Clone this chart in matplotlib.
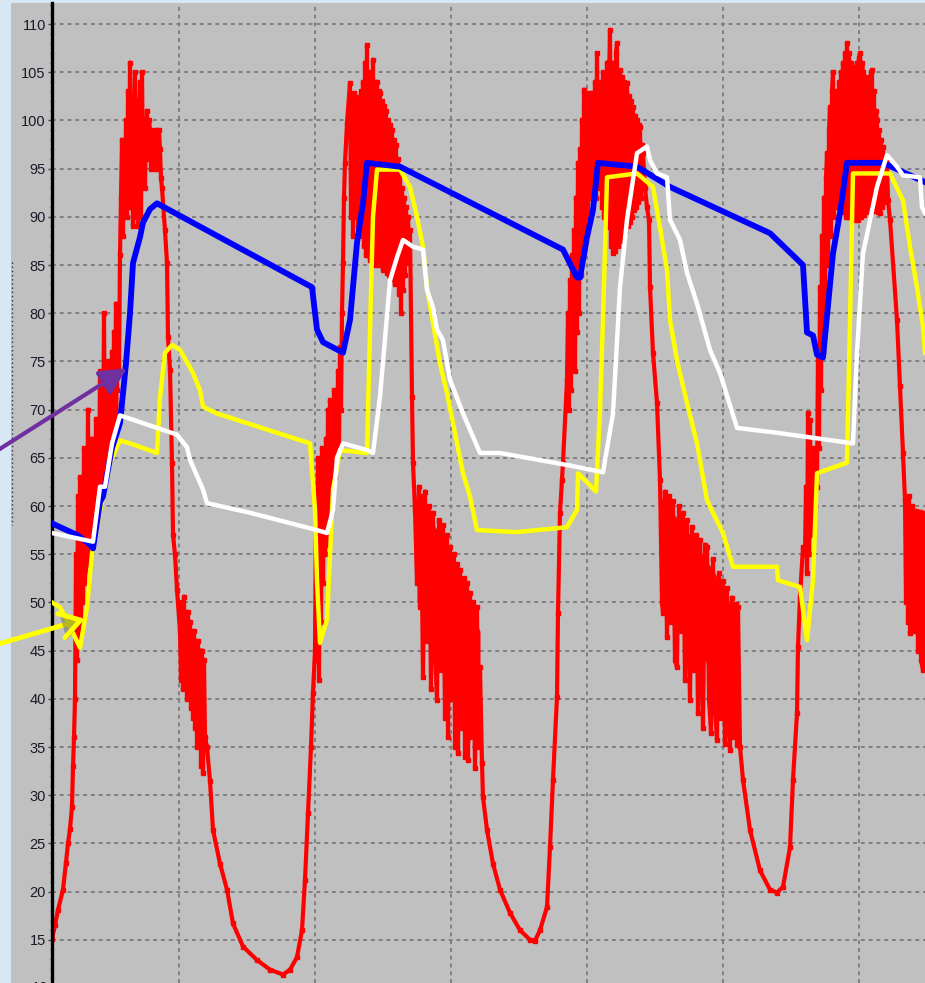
import matplotlib.pyplot as plt
import matplotlib.patheffects as pe
from matplotlib.patches import Rectangle
from matplotlib.lines import Line2D

# x is the sample index of the logger, y the temperature reading
blue_x = [52, 77, 90, 93, 100, 103, 112, 120, 126, 130, 133, 140, 143, 150, 157, 230, 312, 317, 323, 343,
          350, 357, 363, 367, 400, 563, 577, 580, 587, 593, 598, 637, 670, 770, 803, 807, 813, 817, 823, 833,
          840, 847, 883, 925]
blue_y = [58.2, 57.0, 56.0, 55.6, 60.4, 61.0, 66.0, 68.6, 74.8, 80.0, 85.2, 87.9, 89.4, 90.8, 91.4, 87.3, 82.7, 78.3, 77.0, 75.9,
          79.3, 87.3, 91.4, 95.6, 95.2, 86.6, 83.7, 83.7, 87.9, 90.7, 95.6, 95.2, 93.1, 88.3, 85.0, 78.0, 77.7, 75.7, 75.4, 86.2,
          90.4, 95.6, 95.6, 93.6]

white_x = [52, 93, 100, 105, 112, 120, 177, 187, 190, 203, 207, 250, 317, 327, 333, 337, 343, 367, 373, 380,
           390, 397, 403, 413, 423, 427, 433, 437, 443, 450, 463, 480, 500, 570, 603, 613, 620, 627, 637, 647,
           650, 657, 667, 670, 680, 687, 697, 710, 720, 737, 777, 853, 857, 863, 877, 887, 897, 903, 920, 922, 925]
white_y = [57.2, 56.3, 62, 62, 66.5, 69.4, 67.4, 66.1, 64.8, 61.7, 60.3, 59.3, 57.5, 57.2, 59.6, 65, 66.5, 65.8, 65.5, 71.3,
           83.4, 85.8, 87.6, 86.9, 86.6, 82.4, 80.6, 78.3, 77.2, 73.1, 69.6, 65.5, 65.5, 64.2, 63.5, 69.6, 82.7, 89.7, 96.6, 97.3,
           95.9, 94.5, 94.1, 89.7, 87.6, 84.2, 81, 76.2, 73.8, 68.1, 67.6, 66.5, 75.9, 86.2, 93.1, 96.4, 95.2, 94.3, 94.1, 91, 90.4]

yellow_x = [52, 60, 70, 80, 87, 92, 103, 110, 120, 130, 157, 160, 165, 172, 180, 193, 200, 203, 217, 310,
            315, 317, 320, 327, 333, 340, 367, 370, 373, 377, 400, 410, 417, 423, 427, 433, 440, 447, 453, 463,
            470, 477, 517, 567, 577, 578, 596, 600, 603, 607, 637, 653, 660, 667, 670, 677, 687, 697, 707, 713,
            723, 733, 777, 778, 800, 807, 813, 817, 847, 850, 853, 890, 903, 910, 917, 923, 925]
yellow_y = [50, 49.5, 47.5, 45.3, 49.5, 55.1, 61, 64.5, 66.8, 66.5, 65.5, 71.3, 75.9, 76.7, 76.2, 73.8, 72, 70.3, 69.6, 66.5,
            59.6, 52.3, 45.8, 48.2, 61.7, 65.8, 65.5, 78.3, 90, 94.9, 94.9, 93.1, 90, 86.9, 82.7, 79, 74.8, 71.7, 68.6, 63.4,
            61, 57.5, 57.3, 57.8, 59.6, 63.4, 61.5, 70, 79.3, 94.1, 94.5, 93.1, 88.9, 84.5, 79.3, 75.1, 70.7, 66.5, 60.6, 59.3,
            57.2, 53.7, 53.7, 52.3, 51.6, 46.1, 52.3, 63.4, 64.5, 79.3, 94.5, 94.5, 91.7, 86.9, 82.7, 78.6, 75.9]

# red probe: (sample, reading) pieces, noisy stretches kept as they were read
red_rise1 = [(52, 15.1), (55, 16.5), (58, 18.1), (63, 20.2), (66, 23), (68, 25), (70, 26.5), (72, 28.8), (73, 33),
             (74, 36), (75, 40)]
red_band1 = [(76, 55), (77, 44), (78, 61), (79, 46), (80, 63), (81, 48), (82, 58), (83, 50), (84, 66), (85, 52),
             (86, 62), (87, 54), (88, 70), (89, 55), (90, 64), (91, 56), (92, 67), (93, 57), (94, 62), (95, 58),
             (96, 69), (97, 60), (98, 66), (99, 61), (100, 74), (101, 62), (102, 70), (103, 63), (104, 80), (105, 64),
             (106, 72), (107, 66), (108, 75), (109, 67), (110, 74), (111, 68), (112, 76), (113, 69), (114, 78),
             (115, 70), (116, 81), (117, 72), (118, 80), (119, 74), (120, 86)]
red_peak1 = [(121, 92), (122, 98), (123, 88), (124, 96), (125, 91), (126, 100), (127, 90), (128, 103), (129, 91),
             (130, 106), (131, 92), (132, 99), (133, 89), (134, 101), (135, 105), (136, 90), (137, 102), (138, 89),
             (139, 100), (140, 104), (141, 90), (142, 105), (143, 94), (144, 100), (145, 93), (146, 99), (147, 101),
             (148, 96), (149, 100), (150, 99), (151, 95), (152, 98), (153, 96), (154, 99), (155, 95), (156, 98),
             (157, 99), (158, 95), (159, 99), (160, 97), (161, 94), (162, 93)]
red_fall1 = [(165, 88.6), (167, 85.2), (168, 77.5), (170, 74.1), (172, 64.5), (173, 57), (175, 55), (177, 51.3)]
red_band2 = [(180, 47), (181, 42), (182, 50), (183, 41), (184, 50.6), (185, 43), (186, 49), (187, 40), (188, 49),
             (189, 41), (190, 48), (191, 39), (192, 47), (193, 38), (194, 47), (195, 37), (196, 46), (197, 35),
             (198, 46), (199, 36), (200, 45), (201, 33), (202, 45), (203, 32.3), (204, 44), (205, 36), (207, 35)]
red_trough1 = [(210, 31.5), (213, 26.4), (220, 22.9), (227, 20.2), (233, 16.7), (243, 14.3), (257, 12.9), (270, 11.9),
               (283, 11.4), (290, 11.9), (297, 13.2), (302, 16), (305, 21.2), (308, 28.2), (311, 35), (313, 40.6)]
red_band3 = [(315, 45), (316, 60), (317, 44), (318, 65), (319, 42), (320, 62), (321, 48), (322, 66), (323, 52),
             (324, 63), (325, 55), (326, 67), (327, 56), (328, 70), (329, 58), (330, 71), (331, 60), (332, 68),
             (333, 62), (334, 72), (335, 63), (336, 70), (337, 65), (338, 74), (339, 66), (340, 76.5), (341, 70),
             (342, 80), (343, 85.2), (344, 92), (345, 95.6), (347, 99.7)]
red_peak2 = [(350, 103.9), (351, 90), (352, 101), (353, 88), (354, 102.8), (355, 90), (356, 100), (357, 102.4),
             (358, 89), (359, 101), (360, 92), (361, 103), (362, 88), (363, 104), (364, 87), (365, 106), (366, 86),
             (367, 107.8), (368, 86), (369, 104), (370, 85.5), (371, 105), (372, 86), (373, 106.3), (374, 85),
             (375, 104), (376, 85.2), (377, 104), (378, 85), (379, 103), (380, 102.8), (381, 85), (382, 102),
             (383, 84.5), (384, 101.5), (385, 84.5), (386, 101), (387, 84.2), (388, 100), (389, 84), (390, 99.5),
             (391, 84), (392, 99), (393, 83.5), (394, 98), (395, 83), (396, 97.5), (397, 83.1), (398, 96), (399, 82),
             (400, 94.9), (401, 80), (402, 93), (403, 82.4), (404, 92), (405, 84), (406, 91), (407, 85.2), (408, 90),
             (409, 87), (410, 88.6)]
red_fall2 = [(412, 71.3), (413, 64.5), (415, 59.6)]
red_band4 = [(417, 52), (419, 62), (420, 49.5), (421, 61), (423, 42.3), (425, 61.5), (427, 46), (429, 60), (431, 41),
             (433, 59.3), (435, 45), (437, 39.9), (439, 58.5), (441, 43), (443, 58), (445, 38), (447, 57), (448, 36),
             (450, 55.7), (452, 40), (454, 55), (455, 35), (457, 54), (458, 34.4), (460, 53.4), (462, 37),
             (464, 52.5), (465, 34), (467, 52), (468, 33.7), (470, 51), (472, 36), (473, 50), (475, 32.8),
             (477, 49.5), (478, 35), (480, 43.3), (482, 33.3)]
red_trough2 = [(483, 29.8), (487, 26.4), (493, 22.9), (500, 20.2), (510, 17.8), (520, 16), (530, 15), (535, 14.9),
               (540, 16), (547, 18.4), (550, 24.6), (553, 31.6), (557, 40.2), (558, 48.9), (560, 59.3), (562, 62.7),
               (563, 64.5), (567, 73.1)]
red_band5 = [(568, 80), (569, 70), (570, 83.4), (571, 72), (572, 86), (573, 75), (574, 88.6), (575, 74), (576, 92),
             (577, 78), (578, 95.6), (579, 80), (580, 97), (581, 84), (582, 100), (583, 86), (584, 103.2), (585, 88),
             (586, 101), (587, 102.8), (588, 90), (589, 100), (590, 92), (591, 102.8), (592, 93), (593, 102.8),
             (594, 94), (595, 104), (596, 92), (597, 107), (598, 93.1)]
red_peak3 = [(599, 100), (600, 93), (601, 104), (602, 91), (603, 105), (604, 90), (605, 103), (606, 89), (607, 106),
             (608, 88.9), (609, 104), (610, 109.4), (611, 87), (612, 106), (613, 86.2), (614, 105), (615, 86.5),
             (616, 107), (617, 108), (618, 87), (619, 104), (620, 105.2), (621, 87.5), (622, 104.5), (623, 87.9),
             (624, 104), (625, 88.5), (626, 103), (627, 103.9), (628, 89), (629, 102.5), (630, 89.5), (631, 102),
             (632, 90), (633, 101.4), (634, 90.7), (635, 100.5), (636, 91), (637, 100), (638, 91.5), (639, 99.5),
             (640, 99.3), (641, 92), (642, 97.5), (643, 96.6), (645, 93), (647, 91)]
red_fall3 = [(649, 89.7), (650, 82.7), (653, 75.9), (657, 70.7)]
red_band6 = [(660, 62.7), (662, 50), (663, 48.9), (665, 61.5), (667, 46.4), (669, 61), (671, 48), (673, 60.5),
             (675, 44), (677, 43.3), (679, 60), (681, 47), (683, 59.3), (685, 42), (687, 58.5), (689, 45), (690, 39.9),
             (692, 57.8), (694, 43), (696, 57), (698, 38.5), (700, 56.5), (702, 42), (703, 37), (705, 56), (707, 55.7),
             (709, 40), (711, 36.5), (713, 54.5), (715, 39), (717, 35.7), (719, 53), (721, 38), (723, 52.2),
             (725, 35.3), (727, 51.5), (729, 37), (730, 34.7), (732, 50.5), (734, 36), (736, 49.8), (737, 35.2),
             (738, 49.5), (740, 35)]
red_trough3 = [(743, 31.6), (750, 26.4), (760, 22.2), (770, 20.2), (777, 19.9), (783, 20.5), (790, 24.6), (793, 31.6),
               (797, 38.5), (798, 45.4), (800, 50.6), (803, 55.7)]
red_band7 = [(805, 55), (806, 62), (807, 53), (808, 69.6), (809, 55), (810, 68.9), (811, 57), (812, 66), (813, 58),
             (814, 64), (815, 60), (816, 66), (817, 62), (818, 75.9), (819, 66), (820, 82.7), (821, 72), (822, 88),
             (823, 76), (824, 92), (825, 80), (826, 94), (827, 96.6), (828, 85), (829, 99), (830, 101.4), (831, 88),
             (832, 103), (833, 105), (834, 90), (835, 103), (836, 92), (837, 101.8)]
red_peak4 = [(838, 91), (839, 104), (840, 92), (841, 105), (842, 91), (843, 106), (844, 90.5), (845, 107), (846, 90),
             (847, 108), (848, 90), (849, 107), (850, 90), (851, 106), (852, 90), (853, 105.2), (854, 89.8),
             (855, 105.5), (856, 89.7), (857, 106), (858, 89.7), (859, 106.5), (860, 107), (861, 90), (862, 106),
             (863, 105), (864, 90.2), (865, 104.5), (866, 90.5), (867, 104.2), (868, 90.8), (869, 104.5), (870, 91),
             (871, 105), (872, 105.2), (873, 90.8), (874, 103), (875, 90.6), (876, 101), (877, 100), (878, 90.5),
             (879, 99), (880, 90.4), (881, 98), (882, 91), (883, 97.2), (885, 91.5), (887, 95.9), (888, 91.7)]
red_fall4 = [(890, 89.7), (897, 79.3), (900, 72.4), (903, 65.5), (905, 60.6)]
red_band8 = [(906, 50), (907, 60), (908, 48), (909, 61), (910, 46.8), (912, 60), (914, 47), (916, 59.5), (918, 45),
             (920, 59.4), (921, 44), (923, 43), (924, 59.3), (925, 50)]

# dense core of each noisy stretch: (sample, low, high)
red_cores = [
    [(78, 47, 58), (85, 52, 62), (92, 56, 64), (100, 60, 68), (110, 64, 72), (118, 68, 76)],
    [(182, 43, 48), (192, 40, 46), (204, 38, 43)],
    [(316, 48, 58), (328, 58, 67), (340, 68, 74)],
    [(417, 50, 61), (440, 46, 57), (460, 42, 52), (480, 38, 47)],
    [(660, 52, 61), (690, 47, 57), (715, 42, 53), (738, 38, 48)],
    [(906, 50, 58), (925, 47, 58)],
]

red_pieces = [red_rise1, red_band1, red_peak1, red_fall1, red_band2, red_trough1, red_band3, red_peak2, red_fall2,
              red_band4, red_trough2, red_band5, red_peak3, red_fall3, red_band6, red_trough3, red_band7, red_peak4,
              red_fall4, red_band8]
red = [p for piece in red_pieces for p in piece]
red_x = [p[0] for p in red]
red_y = [p[1] for p in red]

y_ticks = list(range(15, 111, 5))
x_grid = [179, 315, 451, 587, 723, 859]

W, H = 925, 983
fig = plt.figure(figsize=(W / 100, H / 100), dpi=100)
fig.patch.set_facecolor('#d7e7f4')

# gray panel behind the tick labels (drawn under the axes)
fig.patches.append(Rectangle((11 / W, 0), (W - 11) / W, 980 / H, transform=fig.transFigure,
                             facecolor='#c0c0c0', edgecolor='none', zorder=-5))
fig.lines.append(Line2D([11.5 / W, 11.5 / W], [(H - 262) / H, (H - 525) / H], transform=fig.transFigure,
                        color='#303050', lw=1, ls=(0, (1, 2)), zorder=-4))

ax = fig.add_axes([52 / W, 0, (W - 52) / W, 980 / H])
ax.set_zorder(1)
ax.set_facecolor('#c0c0c0')
ax.set_xlim(52, 925)
ax.set_ylim(10.52, 112.18)

for s in ['top', 'right', 'bottom']:
    ax.spines[s].set_visible(False)
ax.spines['left'].set_color('black')
ax.spines['left'].set_linewidth(2.4)

ax.set_yticks(y_ticks)
ax.set_yticks(range(11, 113), minor=True)
ax.set_xticks(x_grid)
ax.tick_params(axis='x', length=0, labelbottom=False)
ax.tick_params(axis='y', which='major', length=3, width=1, color='#404040', pad=1.5,
               labelsize=10.5, labelcolor='#1a1a2a')
ax.tick_params(axis='y', which='minor', length=1.5, width=1, color='#505050')
for lab in ax.get_yticklabels():
    lab.set_family('Liberation Sans')
ax.text(-0.0045, 10, '10', transform=ax.get_yaxis_transform(), ha='right', va='center',
        fontsize=10.5, family='Liberation Sans', color='#1a1a2a', clip_on=False)

ax.grid(True, color='#808080', lw=1.4, ls=(0, (2, 2)))
ax.set_axisbelow(True)

for core in red_cores:
    ax.fill_between([c[0] for c in core], [c[1] for c in core], [c[2] for c in core],
                    color='#ff0000', lw=0, zorder=2)
ax.plot(red_x, red_y, color='#ff0000', lw=3.0, marker='s', ms=3.5, zorder=2)
ax.plot(yellow_x, yellow_y, color='#ffff00', lw=3.2, zorder=3)
ax.plot(blue_x, blue_y, color='#0000ff', lw=4.2, zorder=4)
ax.plot(white_x, white_y, color='#ffffff', lw=3.2, zorder=5)

# callout arrows from the slide
ax.annotate('', xy=(127, 74.3), xycoords='data', xytext=(-5, H - 452), textcoords='figure pixels',
            arrowprops=dict(arrowstyle='-|>,head_length=0.9,head_width=0.45', color='#7030a0', lw=3,
                            mutation_scale=18, shrinkA=0, shrinkB=0),
            annotation_clip=False, zorder=6)
ax.annotate('', xy=(85, 48.3), xycoords='data', xytext=(-5, H - 645), textcoords='figure pixels',
            arrowprops=dict(arrowstyle='->,head_length=0.8,head_width=0.5', color='#ffff00', lw=3.5,
                            mutation_scale=18, shrinkA=0, shrinkB=0,
                            path_effects=[pe.SimplePatchShadow(offset=(1.5, -1.5), alpha=0.4), pe.Normal()]),
            annotation_clip=False, zorder=6)

fig.savefig('out.png', dpi=100, facecolor=fig.get_facecolor())
